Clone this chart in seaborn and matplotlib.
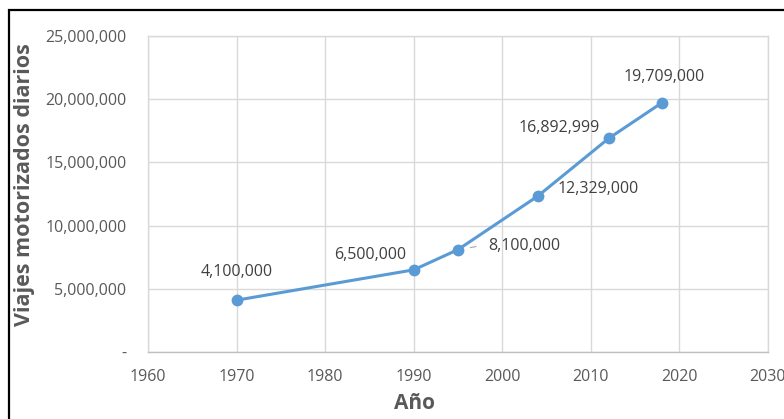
import matplotlib
matplotlib.use("Agg")
import matplotlib.pyplot as plt
import seaborn as sns
from matplotlib.ticker import FuncFormatter
from matplotlib.patches import Rectangle

# data
years = [1970, 1990, 1995, 2004, 2012, 2018]
trips = [4100000, 6500000, 8100000, 12329000, 16892999, 19709000]
point_labels = ["4,100,000", "6,500,000", "8,100,000", "12,329,000", "16,892,999", "19,709,000"]
# label offsets in pixels relative to each point
offsets = [(0, 28), (-44, 15), (66, 4), (60, 7), (-49, 10), (2, 26)]

sns.set_theme(style="whitegrid")
plt.rcParams['font.family'] = ['Open Sans', 'DejaVu Sans']

grey = "#595959"
grid = "#d9d9d9"
blue = "#5b9bd5"

fig = plt.figure(figsize=(7.84, 4.19), dpi=100)
ax = fig.add_axes([148 / 784, 1 - 352 / 419, 620 / 784, 316 / 419])

sns.lineplot(x=years, y=trips, ax=ax, color=blue, linewidth=2.2,
             marker="o", markersize=8.5, markeredgewidth=0)

ax.set_xlim(1960, 2030)
ax.set_ylim(0, 25000000)
ax.set_xticks(range(1960, 2031, 10))
ax.set_yticks(range(0, 25000001, 5000000))
ax.yaxis.set_major_formatter(FuncFormatter(lambda v, p: "-" if v == 0 else f"{int(v):,}"))

ax.grid(True, color=grid, linewidth=1)
for s in ax.spines.values():
    s.set_color(grid)
    s.set_linewidth(1)
ax.spines["bottom"].set_color("#bfbfbf")
ax.tick_params(axis="both", colors=grey, labelsize=11.5, length=0)
ax.tick_params(axis="y", pad=15.5)
ax.tick_params(axis="x", pad=12)

ax.set_xlabel("Año", color=grey, fontsize=15, fontweight="bold")
ax.set_ylabel("Viajes motorizados diarios", color=grey, fontsize=15.5, fontweight="bold")
ax.xaxis.set_label_coords((414 - 148) / 620, (352 - 393) / 316)
ax.yaxis.set_label_coords((35 - 148) / 620, (352 - 185) / 316)

for x, y, lab, (dx, dy) in zip(years, trips, point_labels, offsets):
    ax.annotate(lab, (x, y), xytext=(dx, dy), textcoords="offset pixels",
                ha="center", va="center", fontsize=11.5, color="#404040")

# short leader line for the 1995 label
ax.annotate("", (1995, 8100000), xytext=(18, 3), textcoords="offset pixels",
            arrowprops=dict(arrowstyle="-", color="#a6a6a6", lw=0.8, shrinkA=0, shrinkB=9))

# black frame around the chart
fig.patches.append(Rectangle((9 / 784, -0.05), 1.0, 1 - 10 / 419 + 0.05,
                             transform=fig.transFigure, fill=False,
                             edgecolor="black", linewidth=1.6))

fig.savefig("out.png", dpi=100)
